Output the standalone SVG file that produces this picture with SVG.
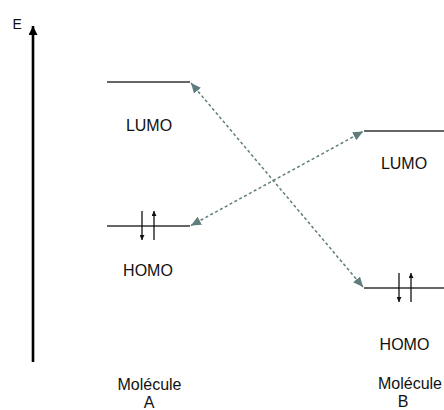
<svg xmlns="http://www.w3.org/2000/svg" width="444" height="410" viewBox="0 0 444 410">
<style>
text{font-family:"Liberation Sans",Arial,sans-serif;fill:#111;}
.lbl{font-size:16px;text-anchor:middle;}
.lvl{stroke:#333;stroke-width:1.6;fill:none;}
.el{stroke:#111;stroke-width:1.3;fill:none;}
.dash{stroke:#5f7d7d;stroke-width:1.5;fill:none;stroke-dasharray:3 2.5;marker-start:url(#dh);marker-end:url(#dh);}
</style>
<defs>
<marker id="dh" markerUnits="userSpaceOnUse" markerWidth="11" markerHeight="9" refX="10" refY="4.5" orient="auto-start-reverse" viewBox="0 0 11 9">
<path d="M0,0 L10,4.5 L0,9 z" fill="#5f7d7d"/>
</marker>
<marker id="ax" markerUnits="userSpaceOnUse" markerWidth="9" markerHeight="9" refX="9" refY="4.5" orient="auto" viewBox="0 0 9 9">
<path d="M0,0 L9,4.5 L0,9 z" fill="#000"/>
</marker>
<marker id="ea" markerUnits="userSpaceOnUse" markerWidth="5" markerHeight="5" refX="5" refY="2.5" orient="auto" viewBox="0 0 5 5">
<path d="M0,0 L5,2.5 L0,5 z" fill="#111"/>
</marker>
</defs>
<g id="axis">
<line x1="33" y1="362" x2="33" y2="26" stroke="#000" stroke-width="2.6" marker-end="url(#ax)"/>
<text x="12.5" y="29" style="font-size:14px">E</text>
</g>
<g id="lumoA">
<line class="lvl" x1="107" y1="82" x2="190" y2="82"/>
<text class="lbl" x="149" y="131">LUMO</text>
</g>
<g id="homoA">
<line class="lvl" x1="107" y1="226" x2="190" y2="226"/>
<line class="el" x1="142" y1="211" x2="142" y2="240" marker-end="url(#ea)"/>
<line class="el" x1="154" y1="240" x2="154" y2="211" marker-end="url(#ea)"/>
<text class="lbl" x="148" y="276">HOMO</text>
</g>
<g id="moleculeA">
<text class="lbl" x="149.5" y="390">Molécule</text>
<text class="lbl" x="149" y="408">A</text>
</g>
<g id="lumoB">
<line class="lvl" x1="364" y1="131" x2="444" y2="131"/>
<text class="lbl" x="404" y="169">LUMO</text>
</g>
<g id="homoB">
<line class="lvl" x1="364" y1="288" x2="444" y2="288"/>
<line class="el" x1="399" y1="273" x2="399" y2="302" marker-end="url(#ea)"/>
<line class="el" x1="411" y1="302" x2="411" y2="273" marker-end="url(#ea)"/>
<text class="lbl" x="404.5" y="350">HOMO</text>
</g>
<g id="moleculeB">
<text class="lbl" x="410" y="389">Molécule</text>
<text class="lbl" x="403" y="407">B</text>
</g>
<g id="connectors">
<line class="dash" x1="191" y1="83" x2="363" y2="287"/>
<line class="dash" x1="191" y1="225.5" x2="363" y2="131.5"/>
</g>
</svg>
